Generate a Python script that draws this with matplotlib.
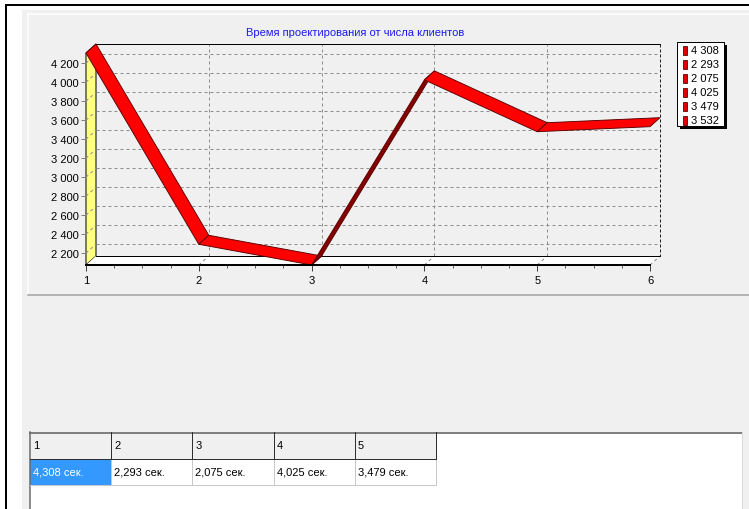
import numpy as np
import matplotlib.pyplot as plt
from matplotlib.patches import Polygon, Rectangle
from matplotlib.ticker import AutoMinorLocator

plt.rcParams['font.family'] = ['Liberation Sans', 'DejaVu Sans']

# Design time (ms) versus number of clients
clients = [1, 2, 3, 4, 5, 6]
times_ms = [4308, 2293, 2075, 4025, 3479, 3532]
y_ticks = [2200, 2400, 2600, 2800, 3000, 3200, 3400, 3600, 3800, 4000, 4200]
title = 'Время проектирования от числа клиентов'
table_cols = 5

W, H = 749, 510
DX, DY = 10, 9          # 3D depth offset in pixels
FS = 8


def spaced(v):
    return f'{v:,}'.replace(',', ' ')


fig = plt.figure(figsize=(W / 100, H / 100), dpi=100)
fig.patch.set_facecolor('white')

# window chrome, drawn in pixel coordinates
bg = fig.add_axes([0, 0, 1, 1])
bg.set_xlim(0, W)
bg.set_ylim(H, 0)
bg.axis('off')

px = 0.72  # one pixel in points
bg.add_patch(Rectangle((5, 5), 2, H - 5, fc='black', ec='none'))
bg.add_patch(Rectangle((5, 5), W - 5, 2, fc='black', ec='none'))
bg.add_patch(Rectangle((22, 11), W - 22, H - 11, fc='#f0f0f0', ec='none'))
bg.plot([28, W], [15, 15], color='white', lw=px * 1.5)
bg.plot([28, 28], [15, 296], color='white', lw=px * 1.5)
bg.plot([28, W], [296, 296], color='#a0a0a0', lw=px * 1.5)

bg.text(355, 33, title, color='#1a1aee', ha='center', va='center', fontsize=FS)

# legend with shadow
bg.add_patch(Rectangle((680, 46), 47, 84, fc='black', ec='none'))
bg.add_patch(Rectangle((677, 43), 47, 84, fc='white', ec='black', lw=px))
for i, v in enumerate(times_ms):
    yy = 51 + 14 * i
    bg.add_patch(Rectangle((683, yy - 4.5), 4, 9, fc='#dd0000', ec='#500000', lw=px * 0.8))
    bg.text(691, yy, spaced(v), ha='left', va='center', fontsize=FS)

# string grid below the chart
x0, cw = 30, 81.2
bg.add_patch(Rectangle((x0, 433), 742 - x0, H - 433, fc='white', ec='none'))
bg.plot([x0, 742], [433.5, 433.5], color='#808080', lw=px * 2)
bg.plot([x0, x0], [433, H], color='#696969', lw=px * 1.5)
bg.plot([742, 742], [433, H], color='#d8d8d8', lw=px)
for j in range(table_cols):
    left = x0 + j * cw
    bg.add_patch(Rectangle((left, 433), cw, 27, fc='#f0f0f0', ec='none'))
    sel = j == 0
    if sel:
        bg.add_patch(Rectangle((left, 460), cw, 26, fc='#3399ff', ec='none'))
    bg.plot([left + cw, left + cw], [433, 460], color='#303030', lw=px)
    bg.plot([left + cw, left + cw], [460, 486], color='#c8c8c8', lw=px)
    bg.text(left + 3, 446, str(clients[j]), ha='left', va='center', fontsize=FS)
    cell = f'{times_ms[j] / 1000:.3f}'.replace('.', ',') + ' сек.'
    bg.text(left + 3, 473, cell, ha='left', va='center', fontsize=FS,
            color='white' if sel else 'black')
right = x0 + table_cols * cw
bg.plot([x0, right], [460, 460], color='#303030', lw=px)
bg.plot([x0, right], [486, 486], color='#c8c8c8', lw=px)

# front plane of the 3D chart
ax = fig.add_axes([86 / W, 1 - 266 / H, (650 - 86) / W, (266 - 54) / H])
ymin, ymax = min(times_ms), max(times_ms)
ax.set_xlim(clients[0], clients[-1])
ax.set_ylim(ymin, ymax)
ax.patch.set_visible(False)
for s in ax.spines.values():
    s.set_visible(False)
ax.spines['bottom'].set_visible(True)
ax.spines['bottom'].set_linewidth(px * 2)
ax.spines['bottom'].set_zorder(6)

ax.set_xticks(clients)
ax.xaxis.set_minor_locator(AutoMinorLocator(4))
ax.set_yticks(y_ticks)
ax.set_yticklabels([spaced(v) for v in y_ticks])
ax.tick_params(axis='x', which='major', length=4.5, width=px, color='#404040',
               labelsize=FS, pad=3)
ax.tick_params(axis='x', which='minor', length=2.5, width=px, color='#606060')
ax.tick_params(axis='y', length=3.5, width=px, color='#808080', labelsize=FS, pad=1.5)


def depth(x, y):
    sx, sy = ax.transData.transform((x, y))
    return tuple(ax.transData.inverted().transform((sx + DX, sy + DY)))


kw = dict(clip_on=False)
xa, xb = clients[0], clients[-1]

# left wall and floor
ax.add_patch(Polygon([(xa, ymin), (xa, ymax), depth(xa, ymax), depth(xa, ymin)],
                     fc='#ffff80', ec='black', lw=px, zorder=1, **kw))
ax.add_patch(Polygon([(xa, ymin), (xb, ymin), depth(xb, ymin), depth(xa, ymin)],
                     fc='white', ec='none', zorder=1, **kw))

grid = dict(color='#8c8c8c', lw=px, ls=(0, (3, 3)), zorder=2, **kw)
for yv in y_ticks:
    p, q = depth(xa, yv), depth(xb, yv)
    ax.plot([xa, p[0]], [yv, p[1]], **grid)
    ax.plot([p[0], q[0]], [p[1], q[1]], **grid)
for xv in clients[1:]:
    p, q = depth(xv, ymin), depth(xv, ymax)
    ax.plot([xv, p[0]], [ymin, p[1]], **grid)
    if xv != xb:
        ax.plot([p[0], q[0]], [p[1], q[1]], **grid)

# back wall edges
bl, br = depth(xa, ymin), depth(xb, ymin)
tl, tr = depth(xa, ymax), depth(xb, ymax)
ax.plot([bl[0], br[0]], [bl[1], br[1]], color='black', lw=px, zorder=3, **kw)
ax.plot([tl[0], tr[0]], [tl[1], tr[1]], color='black', lw=px, zorder=3, **kw)
ax.plot([tr[0], br[0]], [tr[1], br[1]], color='#202020', lw=px, ls=(0, (3, 2)),
        zorder=3, **kw)

# 3D line ribbon
for i in range(len(clients) - 1):
    p0 = (clients[i], times_ms[i])
    p1 = (clients[i + 1], times_ms[i + 1])
    d = ax.transData.transform(p1) - ax.transData.transform(p0)
    facing = d[0] * DY - d[1] * DX > 0
    ax.add_patch(Polygon([p0, p1, depth(*p1), depth(*p0)],
                         fc='#ff0000' if facing else '#840000',
                         ec='#5a0000', lw=px * 0.9, zorder=5, **kw))

fig.savefig('out.png', dpi=100)
